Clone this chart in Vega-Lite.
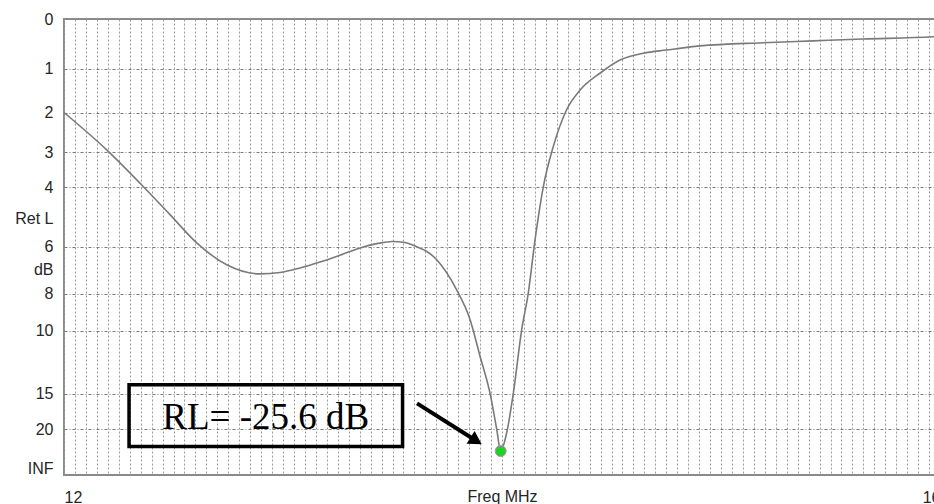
{
  "$schema": "https://vega.github.io/schema/vega-lite/v6.json",
  "width": 876,
  "height": 456,
  "autosize": {"type": "none"},
  "padding": {"left": 64, "top": 19, "right": -6, "bottom": 29},
  "background": "white",
  "config": {
    "view": {"stroke": "#8a8a8a", "strokeWidth": 2},
    "axis": {"labelFont": "Liberation Sans", "labelFontSize": 16, "labelColor": "#262626", "titleFont": "Liberation Sans", "titleFontSize": 16, "titleFontWeight": "normal", "titleColor": "#262626"}
  },
  "datasets": {
    "curve": [
      {"freq_mhz": 12.000, "reflection": 0.795},
      {"freq_mhz": 12.195, "reflection": 0.713},
      {"freq_mhz": 12.355, "reflection": 0.636},
      {"freq_mhz": 12.484, "reflection": 0.571},
      {"freq_mhz": 12.606, "reflection": 0.509},
      {"freq_mhz": 12.743, "reflection": 0.461},
      {"freq_mhz": 12.895, "reflection": 0.441},
      {"freq_mhz": 12.986, "reflection": 0.444},
      {"freq_mhz": 13.078, "reflection": 0.454},
      {"freq_mhz": 13.169, "reflection": 0.467},
      {"freq_mhz": 13.260, "reflection": 0.482},
      {"freq_mhz": 13.352, "reflection": 0.498},
      {"freq_mhz": 13.434, "reflection": 0.508},
      {"freq_mhz": 13.498, "reflection": 0.512},
      {"freq_mhz": 13.557, "reflection": 0.510},
      {"freq_mhz": 13.594, "reflection": 0.504},
      {"freq_mhz": 13.702, "reflection": 0.472},
      {"freq_mhz": 13.793, "reflection": 0.406},
      {"freq_mhz": 13.854, "reflection": 0.341},
      {"freq_mhz": 13.900, "reflection": 0.260},
      {"freq_mhz": 13.945, "reflection": 0.180},
      {"freq_mhz": 13.976, "reflection": 0.100},
      {"freq_mhz": 13.994, "reflection": 0.0525},
      {"freq_mhz": 14.021, "reflection": 0.092},
      {"freq_mhz": 14.052, "reflection": 0.180},
      {"freq_mhz": 14.090, "reflection": 0.319},
      {"freq_mhz": 14.120, "reflection": 0.399},
      {"freq_mhz": 14.151, "reflection": 0.516},
      {"freq_mhz": 14.189, "reflection": 0.633},
      {"freq_mhz": 14.234, "reflection": 0.720},
      {"freq_mhz": 14.295, "reflection": 0.801},
      {"freq_mhz": 14.356, "reflection": 0.844},
      {"freq_mhz": 14.447, "reflection": 0.881},
      {"freq_mhz": 14.539, "reflection": 0.910},
      {"freq_mhz": 14.645, "reflection": 0.925},
      {"freq_mhz": 14.752, "reflection": 0.932},
      {"freq_mhz": 14.904, "reflection": 0.941},
      {"freq_mhz": 15.192, "reflection": 0.948},
      {"freq_mhz": 15.420, "reflection": 0.952},
      {"freq_mhz": 15.648, "reflection": 0.956},
      {"freq_mhz": 15.968, "reflection": 0.961},
      {"freq_mhz": 16.000, "reflection": 0.962}
    ]
  },
  "encoding": {
    "x": {
      "field": "freq_mhz", "type": "quantitative",
      "scale": {"domain": [12, 16], "nice": false, "zero": false},
      "axis": {
        "title": "Freq MHz", "titleBaseline": "alphabetic", "titleY": 26,
        "tickCount": 80, "labelOverlap": false, "labelFlush": false,
        "labelExpr": "datum.value == 12 ? '12' : datum.value == 16 ? '16' : ''",
        "labelAlign": {"condition": {"test": "datum.value == 16", "value": "right"}, "value": "left"},
        "labelBaseline": "alphabetic", "labelPadding": 27,
        "ticks": false, "tickSize": 0, "domain": false,
        "grid": true, "gridColor": "#9a9a9a", "gridDash": [2, 2], "gridWidth": 1
      }
    },
    "y": {
      "field": "reflection", "type": "quantitative",
      "scale": {"domain": [0, 1], "nice": false},
      "axis": {
        "title": null,
        "values": [1, 0.891, 0.794, 0.708, 0.631, 0.563, 0.501, 0.45, 0.398, 0.316, 0.178, 0.1, 0],
        "labelExpr": "datum.value == 1 ? '0' : datum.value == 0.891 ? '1' : datum.value == 0.794 ? '2' : datum.value == 0.708 ? '3' : datum.value == 0.631 ? '4' : datum.value == 0.563 ? 'Ret L' : datum.value == 0.501 ? '6' : datum.value == 0.45 ? 'dB' : datum.value == 0.398 ? '8' : datum.value == 0.316 ? '10' : datum.value == 0.178 ? '15' : datum.value == 0.1 ? '20' : datum.value == 0 ? 'INF' : ''",
        "labelOverlap": false, "labelPadding": 11, "ticks": false, "tickSize": 0, "domain": false,
        "labelOffset": {"condition": {"test": "datum.value == 0", "value": -7}, "value": 0},
        "grid": true, "gridColor": "#7a7a7a", "gridDash": [3, 2, 1, 2], "gridWidth": 1,
        "gridOpacity": {"condition": {"test": "datum.value == 0.563 || datum.value == 0.45 || datum.value == 0 || datum.value == 1", "value": 0}, "value": 1}
      }
    }
  },
  "layer": [
    {
      "data": {"name": "curve"},
      "mark": {"type": "line", "interpolate": "monotone", "color": "#7a7a7a", "strokeWidth": 1.6}
    },
    {
      "data": {"values": [{"freq_mhz": 13.994, "reflection": 0.0525}]},
      "mark": {"type": "point", "filled": true, "fill": "#1fd21f", "stroke": "#d27ad2", "strokeWidth": 1, "size": 120, "opacity": 1}
    },
    {
      "data": {"values": [{"freq_mhz": 12.297, "freq_end": 13.546, "reflection": 0.198, "reflection_end": 0.0624}]},
      "mark": {"type": "rect", "filled": false, "stroke": "black", "strokeWidth": 3.5},
      "encoding": {
        "x2": {"field": "freq_end"},
        "y2": {"field": "reflection_end"}
      }
    },
    {
      "data": {"values": [{"freq_mhz": 12.921, "reflection": 0.101, "label": "RL= -25.6 dB"}]},
      "mark": {"type": "text", "font": "Liberation Serif", "fontSize": 37, "align": "center", "baseline": "alphabetic", "color": "black"},
      "encoding": {
        "text": {"field": "label"}
      }
    },
    {
      "data": {"values": [{"freq_mhz": 13.612, "reflection": 0.157, "freq_end": 13.882, "reflection_end": 0.075}]},
      "mark": {"type": "rule", "color": "black", "strokeWidth": 4},
      "encoding": {
        "x2": {"field": "freq_end"},
        "y2": {"field": "reflection_end"}
      }
    },
    {
      "data": {"values": [{"freq_mhz": 13.882, "reflection": 0.075}]},
      "mark": {"type": "point", "shape": "triangle-right", "angle": 32, "filled": true, "color": "black", "size": 230, "opacity": 1}
    }
  ]
}
